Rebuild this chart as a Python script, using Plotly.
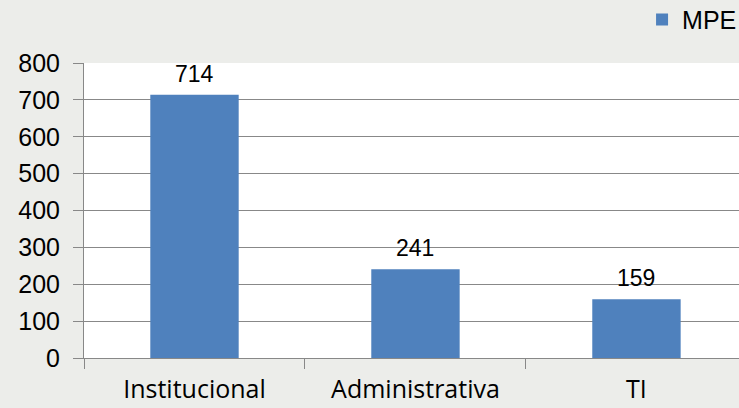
import plotly.graph_objects as go

categories = ["Institucional", "Administrativa", "TI"]
values = [714, 241, 159]
series_name = "MPE"
y_ticks = [0, 100, 200, 300, 400, 500, 600, 700, 800]

W, H = 739, 408
ml, mr, mt, mb = 84, 0, 63, 50

fig = go.Figure()
fig.add_trace(go.Bar(
    x=categories, y=values, name=series_name,
    marker=dict(color="#4F81BD", line=dict(width=0)),
    width=0.4,
))

for c, v in zip(categories, values):
    fig.add_annotation(x=c, y=v, text=str(v), showarrow=False,
                       yanchor="bottom", yshift=6,
                       font=dict(family="Liberation Sans, Arial", size=23, color="#000000"))

fig.update_layout(
    width=W, height=H,
    margin=dict(l=ml, r=mr, t=mt, b=mb, autoexpand=False),
    paper_bgcolor="#ECEDEA",
    plot_bgcolor="#FFFFFF",
    showlegend=True,
    legend=dict(x=0.852, y=1.225, xanchor="left", yanchor="top",
                font=dict(family="Liberation Sans, Arial", size=25, color="#000000"),
                bgcolor="rgba(0,0,0,0)", borderwidth=0),
    xaxis=dict(
        type="category",
        range=[-0.5, 2.464],
        tickson="boundaries",
        ticks="outside", ticklen=10, tickcolor="#888888", tickwidth=1,
        showline=True, linecolor="#888888", linewidth=1,
        showgrid=False,
        automargin=False,
        ticklabelstandoff=9,
        tickfont=dict(family="Open Sans, Lato", size=25, color="#000000"),
    ),
    yaxis=dict(
        range=[0, 800],
        tickvals=y_ticks,
        ticks="outside", ticklen=10, tickcolor="#888888", tickwidth=1,
        showline=True, linecolor="#888888", linewidth=1,
        showgrid=True, gridcolor="#888888", gridwidth=1,
        zeroline=False,
        automargin=False,
        ticklabelstandoff=8,
        tickfont=dict(family="Liberation Sans, Arial", size=25, color="#000000"),
    ),
    bargap=0.6,
)

fig.write_html("out.html", config={"displayModeBar": False},
               post_script="document.body.style.margin='0';")
